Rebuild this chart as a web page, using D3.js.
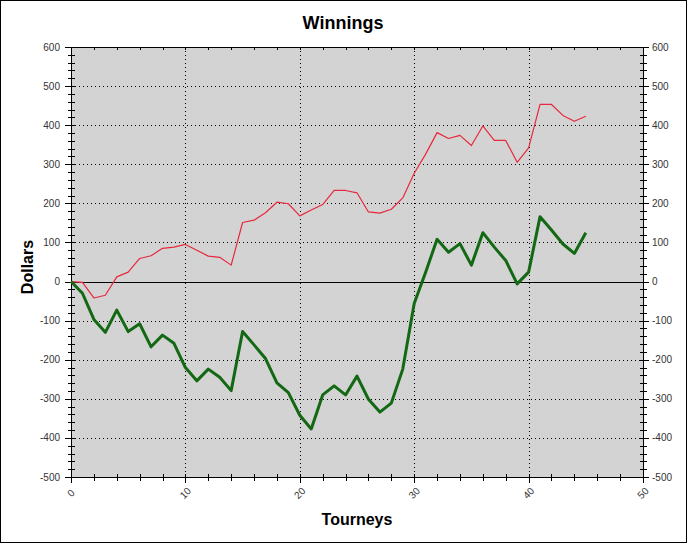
<!DOCTYPE html>
<html><head><meta charset="utf-8">
<script src="https://d3js.org/d3.v7.min.js"></script>
<style>body{margin:0;background:#fff}svg{display:block}</style>
</head><body>
<script>
const tourneys = d3.range(0, 46);
const greenSeries = [0,-30,-97,-130,-73,-128,-108,-167,-137,-158,-220,-254,-224,-245,-279,-128,-162,-197,-259,-284,-342,-377,-290,-267,-290,-242,-301,-334,-311,-224,-56,24,108,75,97,42,125,88,54,-6,24,166,132,96,72,125];
const redSeries = [0,-2,-42,-35,12,24,59,66,85,88,95,80,65,62,42,151,157,176,203,199,168,183,197,233,233,227,178,175,185,214,277,326,381,366,374,348,398,361,361,305,342,453,453,425,410,423];
const yTicks = d3.range(-500, 601, 100);
const xTicks = d3.range(0, 51, 10);
const title = "Winnings", xTitle = "Tourneys", yTitle = "Dollars";

const W = 687, H = 543;
const L = 71, R = 643, T = 47, B = 477;
const svg = d3.select("body").append("svg").attr("width", W).attr("height", H);
svg.append("rect").attr("x",0.5).attr("y",0.5).attr("width",W-1).attr("height",H-1).attr("fill","#fff").attr("stroke","#000");

const x = d3.scaleLinear().domain([0,50]).range([L,R]);
const y = d3.scaleLinear().domain([-500,600]).range([B,T]);

svg.append("rect").attr("x",L).attr("y",T).attr("width",R-L).attr("height",B-T).attr("fill","#d3d3d3");

// grid
const g = svg.append("g");
yTicks.filter(v=>v!==0 && v!==600 && v!==-500).forEach(v=>{
  g.append("line").attr("x1",L).attr("x2",R).attr("y1",Math.round(y(v))+0.5).attr("y2",Math.round(y(v))+0.5)
   .attr("stroke","#000").attr("stroke-dasharray","1,3");
});
xTicks.filter(v=>v!==0 && v!==50).forEach(v=>{
  g.append("line").attr("y1",T).attr("y2",B).attr("x1",Math.round(x(v))+0.5).attr("x2",Math.round(x(v))+0.5)
   .attr("stroke","#000").attr("stroke-dasharray","1,3");
});
// zero line
svg.append("line").attr("x1",L).attr("x2",R).attr("y1",Math.round(y(0))+0.5).attr("y2",Math.round(y(0))+0.5).attr("stroke","#000");

// axes lines
const ax = svg.append("g").attr("stroke","#000").attr("shape-rendering","crispEdges");
ax.append("line").attr("x1",L).attr("x2",R).attr("y1",T).attr("y2",T);
ax.append("line").attr("x1",L).attr("x2",R).attr("y1",B).attr("y2",B);
ax.append("line").attr("x1",L).attr("x2",L).attr("y1",T).attr("y2",B);
ax.append("line").attr("x1",R).attr("x2",R).attr("y1",T).attr("y2",B);
// minor y ticks
d3.range(-500,601,20).forEach(v=>{
  const yy = Math.round(y(v));
  ax.append("line").attr("x1",L-3).attr("x2",L+4).attr("y1",yy).attr("y2",yy);
  ax.append("line").attr("x1",R-3).attr("x2",R+4).attr("y1",yy).attr("y2",yy);
});
yTicks.forEach(v=>{
  const yy = Math.round(y(v));
  ax.append("line").attr("x1",L-6).attr("x2",L).attr("y1",yy).attr("y2",yy);
  ax.append("line").attr("x1",R).attr("x2",R+6).attr("y1",yy).attr("y2",yy);
});
d3.range(0,51,2).forEach(v=>{
  const xx = Math.round(x(v));
  ax.append("line").attr("x1",xx).attr("x2",xx).attr("y1",B-3).attr("y2",B+4);
  ax.append("line").attr("x1",xx).attr("x2",xx).attr("y1",T).attr("y2",T+3);
});
xTicks.forEach(v=>{
  const xx = Math.round(x(v));
  ax.append("line").attr("x1",xx).attr("x2",xx).attr("y1",B).attr("y2",B+6);
});

// tick labels
const font = "Arial, 'Liberation Sans', sans-serif";
yTicks.forEach(v=>{
  svg.append("text").attr("x",L-11).attr("y",y(v)).attr("dy","0.35em").attr("text-anchor","end")
    .attr("font-family",font).attr("font-size",10).attr("fill","#333").text(v);
  svg.append("text").attr("x",R+9).attr("y",y(v)).attr("dy","0.35em").attr("text-anchor","start")
    .attr("font-family",font).attr("font-size",10).attr("fill","#333").text(v);
});
xTicks.forEach(v=>{
  svg.append("text").attr("transform",`translate(${x(v)},${493}) rotate(-45)`)
    .attr("text-anchor","middle").attr("dy","0.35em")
    .attr("font-family",font).attr("font-size",10).attr("fill","#333").text(v);
});

// lines
const line = (arr)=>d3.line().x((d,i)=>x(tourneys[i])).y(d=>y(d))(arr);
svg.append("path").attr("d",line(redSeries)).attr("fill","none").attr("stroke","#e8283c").attr("stroke-width",1.2).attr("stroke-linejoin","round");
svg.append("path").attr("d",line(greenSeries)).attr("fill","none").attr("stroke","#136813").attr("stroke-width",3).attr("stroke-linejoin","round");

// titles
svg.append("text").attr("x",343).attr("y",29).attr("text-anchor","middle").attr("font-family",font)
  .attr("font-weight","bold").attr("font-size",18).text(title);
svg.append("text").attr("x",357).attr("y",525).attr("text-anchor","middle").attr("font-family",font)
  .attr("font-weight","bold").attr("font-size",16).text(xTitle);
svg.append("text").attr("transform","translate(33,267) rotate(-90)").attr("text-anchor","middle").attr("font-family",font)
  .attr("font-weight","bold").attr("font-size",16).text(yTitle);
</script>
</body></html>
